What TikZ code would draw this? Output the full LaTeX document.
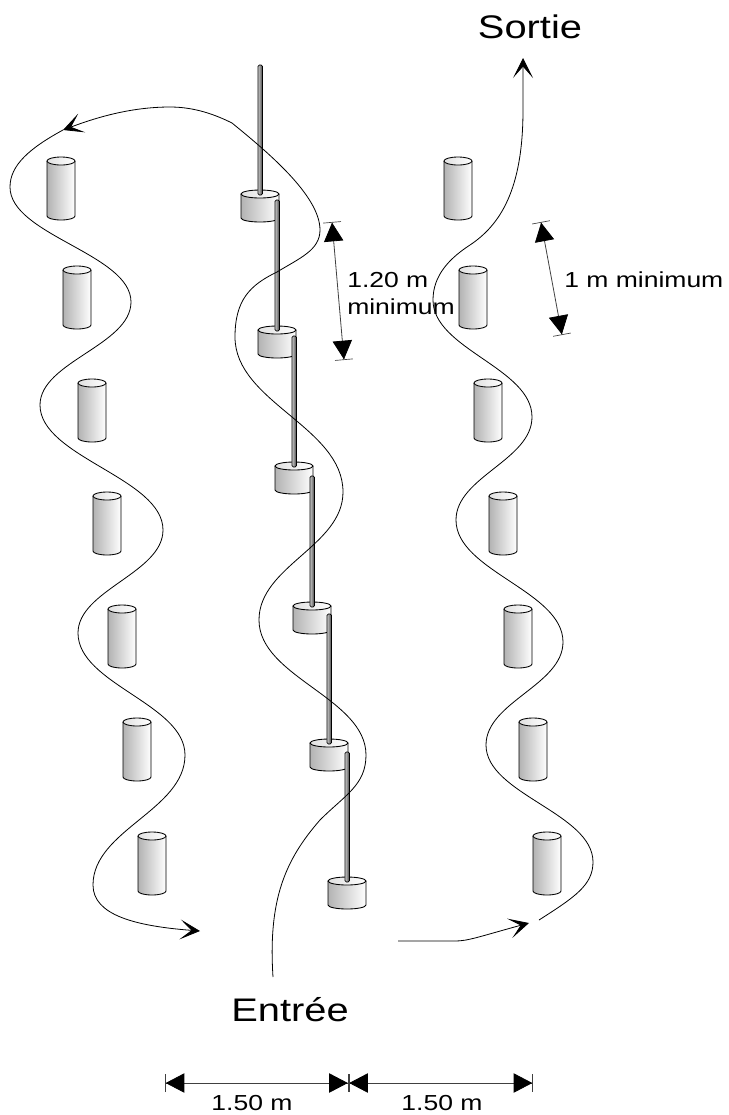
\documentclass[tikz,border=0pt]{standalone}
\usepackage{fontspec}
\setmainfont[FakeStretch=1.22]{Liberation Sans}
\usetikzlibrary{arrows.meta}
\tikzset{
        % Slalom track
        track/.style={line width=0.6pt, black},
        track_arrow/.style={track, -{Stealth[length=15pt,width=15pt,inset=8.5pt,sep=0pt]}},
        % Measuring lines
        dimension/.style={line width=0.6pt, black!75,
            {Bar[width=13.5pt,line width=0.5pt,sep=0pt]Triangle[length=14pt,width=14.5pt,sep=0pt,black]}-{Triangle[length=14pt,width=14.5pt,sep=0pt,black]Bar[width=13.5pt,line width=0.5pt,sep=0pt]}},
        % Labels
        big_label/.style={anchor=base, inner sep=0pt, font=\fontsize{24.5pt}{30pt}\selectfont},
        small_label/.style={anchor=base, inner sep=0pt, font=\fontsize{16.3pt}{20pt}\selectfont},
        % Cans
        can_side/.style={left color=black!30, middle color=black!6, right color=white},
        can_top/.style={left color=black!12, right color=white},
        % Poles
        pole/.style={left color=black!20, right color=black!75, line width=0.5pt, rounded corners=1pt}
}
% x, top, width, height
\newcommand{\drawcan}[4]{
    \path[can_side] (#1,{#2+4}) -- (#1,{#2+#4-4}) arc[start angle=180,end angle=0,x radius={#3/2},y radius=4] -- ({#1+#3},{#2+4}) -- cycle;
    \draw[line width=0.65pt] (#1,{#2+4}) -- (#1,{#2+#4-4}) arc[start angle=180,end angle=0,x radius={#3/2},y radius=4] -- ({#1+#3},{#2+4});
    \draw[can_top, line width=0.65pt] ({#1+#3/2},{#2+4}) ellipse[x radius={#3/2},y radius=4];
}
\begin{document}
\begin{tikzpicture}[x=0.75pt,y=-0.75pt]
    \useasboundingbox (0,0) rectangle (729,1115);

    % Tall cones
    \foreach \x/\y in {47/157,63/266,78/379,93/492,108/605,123/718,138/832,
                       444/157,459/266,474/379,489/492,504/605,519/718,533/832}
        \drawcan{\x}{\y}{28}{63};

    % Weights with poles
    \foreach \x/\y/\ytop in {241/190/65,258/326/200,275/462/336,293/602/476,310/739/614,328/877/752}{
        \drawcan{\x}{\y}{38}{32};
        \draw[pole] ({\x+17},{\y+5}) -- ({\x+17},\ytop) -- ({\x+21.5},\ytop) -- ({\x+21.5},{\y+5}) -- cycle;
    }

    % Way in
    \draw[track_arrow] (273,977) .. controls (268,900) and (285,860) .. (320,820)
        .. controls (345,795) and (366,785) .. (366,755)
        .. controls +(0,-57) and +(0,57) .. (259,620)
        .. controls +(0,-54) and +(0,54) .. (343,492)
        .. controls +(0,-65) and +(0,65) .. (235,337)
        .. controls (235,300) and (250,285) .. (277,272)
        .. controls (300,258) and (320,250) .. (320,230)
        .. controls (320,195) and (265,150) .. (232,123)
        .. controls (210,112) and (190,107) .. (170,107)
        .. controls (130,107) and (95,118) .. (63,130);
    \draw[track_arrow] (63,130) .. controls (30,148) and (10,165) .. (10,187)
        .. controls +(0,48) and +(0,-48) .. (131,302)
        .. controls +(0,43) and +(0,-43) .. (40,405)
        .. controls +(0,52) and +(0,-52) .. (163,530)
        .. controls +(0,43) and +(0,-43) .. (78,633)
        .. controls +(0,51) and +(0,-51) .. (185,755)
        .. controls +(0,55) and +(0,-55) .. (93,885)
        .. controls (93,915) and (135,926) .. (200,931);

    % Way out
    \draw[track_arrow] (398,941) -- (455,941) .. controls (468,941) and (478,937) .. (529,923);
    \draw[track_arrow] (539,920) .. controls (575,897) and (593,885) .. (593,862)
        .. controls +(0,-49) and +(0,49) .. (486,745)
        .. controls +(0,-43) and +(0,43) .. (563,642)
        .. controls +(0,-51) and +(0,51) .. (456,520)
        .. controls +(0,-43) and +(0,43) .. (532,417)
        .. controls +(0,-49) and +(0,49) .. (433,300)
        .. controls (433,275) and (450,258) .. (470,245)
        .. controls (500,225) and (523,190) .. (523,110)
        -- (523,58);

    % Measures
    \coordinate (post_a) at (332,222);
    \coordinate (post_b) at (344,360);
    \coordinate (cone_a) at (541,222);
    \coordinate (cone_b) at (562,335);
    \coordinate (base_l) at (165,1083);
    \coordinate (base_m) at (348.5,1083);
    \coordinate (base_r) at (533,1083);
    \draw[dimension] (post_a) -- (post_b);
    \draw[dimension] (cone_a) -- (cone_b);
    \draw[dimension] (base_l) -- (base_m);
    \draw[dimension] (base_m) -- (base_r);

    \node[big_label] (sortie) at (530,38) {Sortie};
    \node[big_label] (entree) at (290,1021) {Entrée};
    \node[small_label] (width_l) at (252,1110) {1.50 m};
    \node[small_label] (width_r) at (442,1110) {1.50 m};
    \node[small_label, anchor=base west] (post_gap_top) at (347,287) {1.20 m};
    \node[small_label, anchor=base west] (post_gap_bot) at (347,314) {minimum};
    \node[small_label, anchor=base west] (cone_gap) at (564,287.5) {1 m minimum};
\end{tikzpicture}
\end{document}
